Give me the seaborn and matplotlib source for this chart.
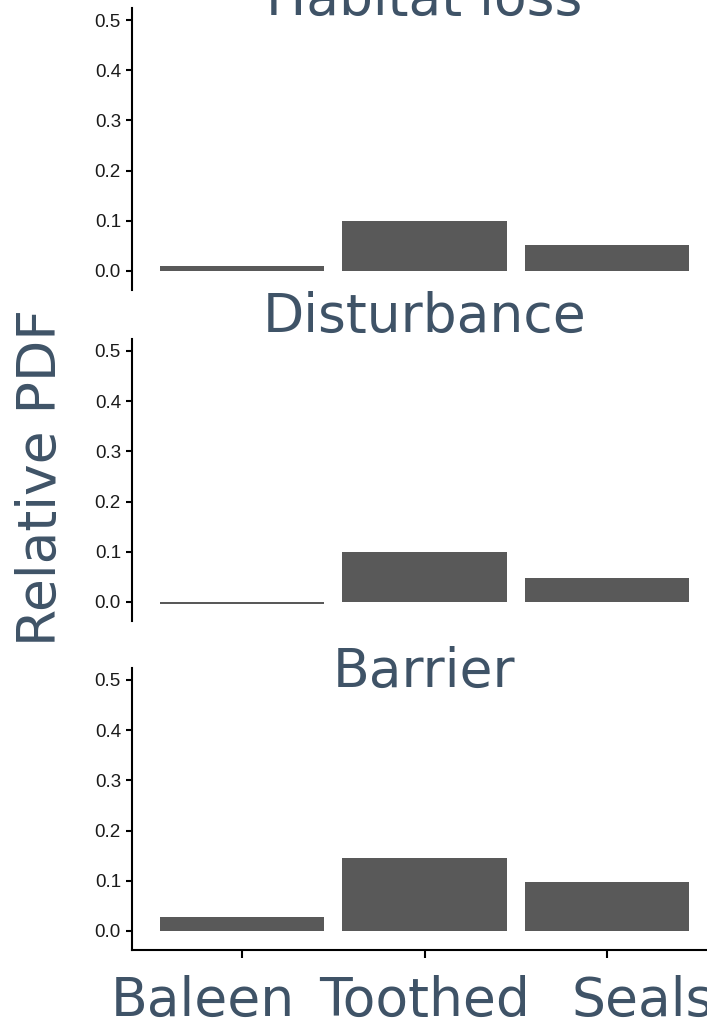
import matplotlib
matplotlib.use("Agg")
import matplotlib.pyplot as plt
import matplotlib.transforms as mtrans
import pandas as pd
import seaborn as sns

groups = ["Baleen", "Toothed", "Seals"]
panels = ["Habitat loss", "Disturbance", "Barrier"]
habitat_loss = [0.010, 0.100, 0.052]
disturbance = [-0.005, 0.100, 0.047]
barrier = [0.028, 0.145, 0.097]
y_ticks = [0.0, 0.1, 0.2, 0.3, 0.4, 0.5]

TEXT_COLOR = "#3f5367"
BAR_COLOR = "#595959"
BIG = 38.5


def set_style():
    sns.set_theme(style="ticks")
    plt.rcParams["font.family"] = ["DejaVu Sans"]
    plt.rcParams["axes.linewidth"] = 1.5


def draw_panel(ax, df, title, title_y, show_x):
    sns.barplot(data=df, x="group", y="value", color=BAR_COLOR, width=0.9,
                saturation=1, edgecolor="none", ax=ax, errorbar=None)
    ax.set_xlim(-0.603, 2.6)
    ax.set_ylim(-0.038, 0.524)
    ax.set_yticks(y_ticks)
    ax.set_yticklabels([f"{t:.1f}" for t in y_ticks], family="Liberation Sans",
                       fontsize=13.5, color="#1a1a1a")
    ax.tick_params(axis="y", length=4, width=1.5, pad=4, color="black")
    ax.set_xlabel("")
    ax.set_ylabel("")
    for side in ["top", "right"]:
        ax.spines[side].set_visible(False)
    ax.spines["left"].set_color("black")
    ax.text(0.5, title_y, title, transform=ax.transAxes, ha="center",
            va="baseline", fontsize=BIG, color=TEXT_COLOR)
    if show_x:
        ax.spines["bottom"].set_color("black")
        ax.tick_params(axis="x", length=6, width=1.5, pad=12, color="black",
                       labelsize=BIG, labelcolor=TEXT_COLOR)
    else:
        ax.spines["bottom"].set_visible(False)
        ax.tick_params(axis="x", length=0, labelbottom=False)


def main():
    set_style()
    fig = plt.figure(figsize=(7.07, 10.23), dpi=100)
    values = [habitat_loss, disturbance, barrier]
    bottoms = [0.7165, 0.3930, 0.0714]
    title_ys = [0.975, 1.025, 0.933]
    axes = []
    for i, (title, vals) in enumerate(zip(panels, values)):
        ax = fig.add_axes([0.1867, bottoms[i], 0.8267, 0.2757])
        df = pd.DataFrame({"group": groups, "value": vals})
        draw_panel(ax, df, title, title_ys[i], show_x=(i == 2))
        axes.append(ax)

    # shift outer category labels like the original
    shifts = [-0.39, 0.0, 0.36]
    for lab, dx in zip(axes[2].get_xticklabels(), shifts):
        lab.set_transform(lab.get_transform() +
                          mtrans.ScaledTranslation(dx, 0, fig.dpi_scale_trans))

    fig.text(41 / 707, 1 - 477 / 1023, "Relative PDF", rotation=90,
             ha="center", va="center", fontsize=BIG, color=TEXT_COLOR)
    fig.savefig("out.png", dpi=100)
    plt.close(fig)


if __name__ == "__main__":
    main()
